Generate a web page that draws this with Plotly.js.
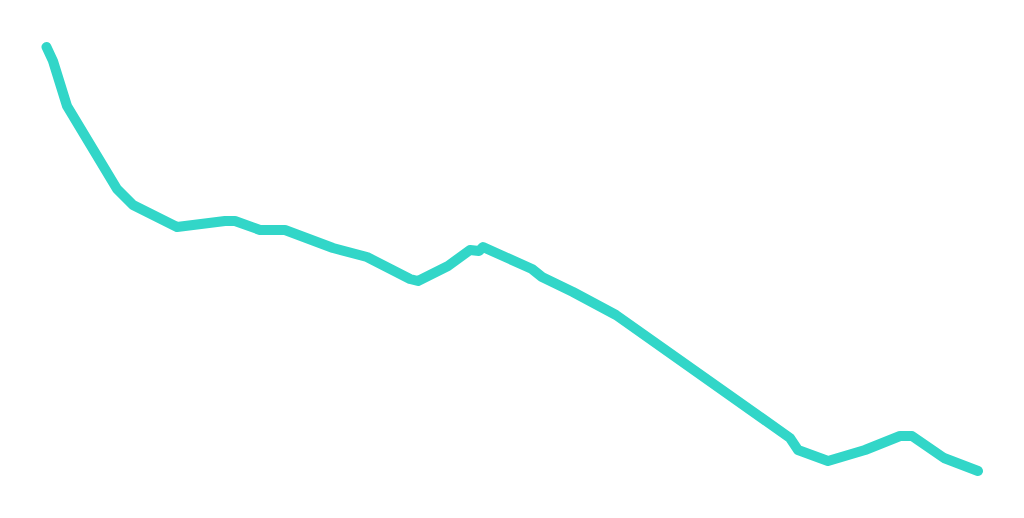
<!DOCTYPE html>
<html>
<head>
<meta charset="utf-8">
<script src="https://cdn.plot.ly/plotly-3.0.1.min.js"></script>
<style>
  html, body { margin: 0; padding: 0; background: #fff; }
  #plot { width: 1024px; height: 518px; }
  .js-line { stroke-linecap: round; stroke-linejoin: round; }
</style>
</head>
<body>
<div id="plot"></div>
<script>
// points
let xValues = [46.5, 53, 67, 117, 133, 177, 225, 235, 260, 285, 333, 367, 410, 418, 448, 470, 479, 483,
               532, 542, 573, 616, 790, 798, 828, 865, 900, 912, 944, 978];
let yValues = [471, 457, 412, 329, 313, 291, 297, 297, 288, 288, 270, 261, 239, 237, 252, 268, 267, 271,
               249, 241, 226, 203, 80, 68, 57, 68, 82, 82, 60, 47];

Plotly.newPlot('plot', [{
    x: xValues,
    y: yValues,
    mode: 'lines',
    line: {color: '#32d6c8', width: 10},
    hoverinfo: 'none'
}], {
    width: 1024,
    height: 518,
    margin: {l: 0, r: 0, t: 0, b: 0},
    paper_bgcolor: '#fff',
    plot_bgcolor: '#fff',
    showlegend: false,
    xaxis: {range: [0, 1024], visible: false, fixedrange: true},
    yaxis: {range: [0, 518], visible: false, fixedrange: true}
}, {staticPlot: true});
</script>
</body>
</html>
